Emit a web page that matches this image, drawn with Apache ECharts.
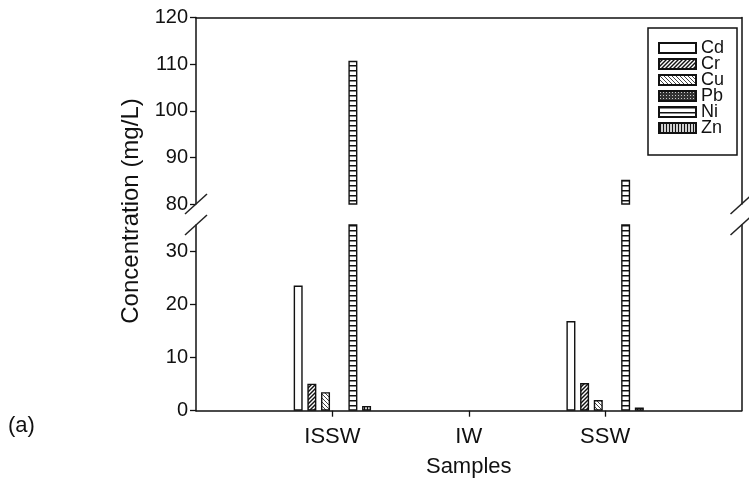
<!DOCTYPE html>
<html><head><meta charset="utf-8">
<script src="https://cdn.jsdelivr.net/npm/echarts@6/dist/echarts.min.js"></script>
<style>html,body{margin:0;padding:0;background:#fff}#c{width:749px;height:484px}</style>
</head><body><div id="c"></div>
<script>
// ---- data ----
const categories = ['', 'ISSW', 'IW', 'SSW', ''];
const metals = ['Cd', 'Cr', 'Cu', 'Pb', 'Ni', 'Zn'];
const Cd = ['-', 23.6, 0, 16.9, '-'];
const Cr = ['-', 5.1, 0, 5.2, '-'];
const Cu = ['-', 3.5, 0, 2.0, '-'];
const Pb = ['-', 0, 0, 0, '-'];
const Ni = ['-', 110.7, 0, 85.2, '-'];
const Zn = ['-', 0.9, 0, 0.6, '-'];
const lowerTicks = [0, 10, 20, 30];
const upperTicks = [80, 90, 100, 110, 120];
const lowerRange = [0, 35];
const upperRange = [80, 120];
const values = {Cd, Cr, Cu, Pb, Ni, Zn};

// ---- styles ----
const INK = '#111';
const FONT = 'Liberation Sans';
function pat(w, h, draw) {
  const c = document.createElement('canvas'); c.width = w; c.height = h;
  const g = c.getContext('2d'); g.fillStyle = '#fff'; g.fillRect(0, 0, w, h);
  g.strokeStyle = INK; draw(g, w, h);
  return {image: c, repeat: 'repeat'};
}
function line(g, x1, y1, x2, y2) { g.beginPath(); g.moveTo(x1, y1); g.lineTo(x2, y2); g.stroke(); }
const fills = {
  Cd: '#fff',
  Cr: pat(4, 4, (g) => { g.lineWidth = 1.4; line(g, -1, 5, 5, -1); line(g, -1, 1, 1, -1); line(g, 3, 5, 5, 3); }),
  Cu: pat(4, 4, (g) => { g.strokeStyle = '#444'; g.lineWidth = 1; line(g, -1, -1, 5, 5); line(g, 3, -1, 5, 1); line(g, -1, 3, 1, 5); }),
  Pb: pat(3, 3, (g) => { g.fillStyle = '#333'; g.fillRect(0, 0, 3, 3); g.fillStyle = '#ccc'; g.fillRect(1, 1, 1, 1); }),
  Ni: pat(4, 5, (g) => { g.lineWidth = 1.5; line(g, 0, 0.75, 4, 0.75); }),
  Zn: pat(3, 4, (g) => { g.lineWidth = 1.4; line(g, 1.5, 0, 1.5, 4); })
};

const G_LEFT = 196, G_RIGHT = 7.5;
const lowTop = 225, lowBottom = 73.3;
const upTop = 17.5, upBottom = 280;

// zero-height bars are not drawn (they would only thicken the axis line)
const shown = (v) => (v === '-' || v === 0) ? '-' : v;

const series = [];
metals.forEach((m) => {
  const base = {
    name: m, type: 'bar', barWidth: 9, barGap: '52%', clip: true,
    itemStyle: {color: fills[m], borderColor: INK, borderWidth: 1.4},
    emphasis: {disabled: true}, animation: false
  };
  series.push(Object.assign({}, base, {xAxisIndex: 0, yAxisIndex: 0, data: values[m].map(shown)}));
  series.push(Object.assign({}, base, {xAxisIndex: 1, yAxisIndex: 2,
    data: values[m].map(v => (v === '-' || v < upperRange[0]) ? '-' : v)}));
});

const axisLine = {show: true, lineStyle: {color: INK, width: 1.5}};
const tickStyle = {show: true, length: 6, lineStyle: {color: INK, width: 1.3}};
const labelStyle = {color: INK, fontFamily: FONT, fontSize: 20, margin: 8};

const option = {
  backgroundColor: '#fff',
  animation: false,
  grid: [
    {left: G_LEFT, right: G_RIGHT, top: lowTop, bottom: lowBottom},
    {left: G_LEFT, right: G_RIGHT, top: upTop, bottom: upBottom}
  ],
  xAxis: [
    {type: 'category', gridIndex: 0, data: categories, boundaryGap: false, position: 'bottom',
     axisLine: axisLine,
     axisTick: Object.assign({}, tickStyle, {interval: (i, v) => v !== ''}),
     axisLabel: {color: INK, fontFamily: FONT, fontSize: 22, margin: 15, interval: (i, v) => v !== ''},
     name: 'Samples', nameLocation: 'middle', nameGap: 45,
     nameTextStyle: {color: INK, fontFamily: FONT, fontSize: 22},
     splitLine: {show: false}},
    {type: 'category', gridIndex: 1, data: categories, boundaryGap: false, position: 'top',
     axisLine: axisLine, axisTick: {show: false}, axisLabel: {show: false}, splitLine: {show: false}}
  ],
  yAxis: [
    {type: 'value', gridIndex: 0, min: lowerRange[0], max: lowerRange[1], position: 'left',
     axisLine: axisLine,
     axisTick: Object.assign({}, tickStyle, {customValues: lowerTicks}),
     axisLabel: Object.assign({}, labelStyle, {customValues: lowerTicks}),
     splitLine: {show: false}},
    {type: 'value', gridIndex: 0, min: lowerRange[0], max: lowerRange[1], position: 'right',
     axisLine: axisLine, axisTick: {show: false}, axisLabel: {show: false}, splitLine: {show: false}},
    {type: 'value', gridIndex: 1, min: upperRange[0], max: upperRange[1], position: 'left',
     axisLine: axisLine,
     axisTick: Object.assign({}, tickStyle, {customValues: upperTicks}),
     axisLabel: Object.assign({}, labelStyle, {customValues: upperTicks}),
     splitLine: {show: false}},
    {type: 'value', gridIndex: 1, min: upperRange[0], max: upperRange[1], position: 'right',
     axisLine: axisLine, axisTick: {show: false}, axisLabel: {show: false}, splitLine: {show: false}}
  ],
  legend: {
    data: metals, orient: 'vertical', left: 648, top: 28,
    padding: [11, 13, 18, 10], itemGap: -2, itemWidth: 37, itemHeight: 10,
    borderColor: INK, borderWidth: 1.5, backgroundColor: '#fff',
    textStyle: {color: INK, fontFamily: FONT, fontSize: 18},
    selectedMode: false, icon: 'rect'
  },
  series: series
};

const chart = echarts.init(document.getElementById('c'), null, {renderer: 'canvas'});
chart.setOption(option);

// axis-break slashes and free texts
const yUpBottom = chart.convertToPixel({yAxisIndex: 2}, upperRange[0]);
const yLowTop = chart.convertToPixel({yAxisIndex: 0}, lowerRange[1]);
const xL = G_LEFT, xR = 749 - G_RIGHT;
function slash(x, y) {
  return {type: 'line', shape: {x1: x - 11, y1: y + 10, x2: x + 11, y2: y - 10},
    style: {stroke: '#222', lineWidth: 1.5}, z: 10};
}
chart.setOption({
  graphic: [
    slash(xL, yUpBottom), slash(xL, yLowTop),
    slash(xR, yUpBottom), slash(xR, yLowTop),
    {type: 'text', x: 131, y: 211, rotation: Math.PI / 2,
     style: {text: 'Concentration (mg/L)', fill: INK, font: '24px "Liberation Sans"', align: 'center', verticalAlign: 'middle'}},
    {type: 'text', x: 8, y: 426,
     style: {text: '(a)', fill: INK, font: '22px "Liberation Sans"', align: 'left', verticalAlign: 'middle'}}
  ]
});
</script></body></html>
